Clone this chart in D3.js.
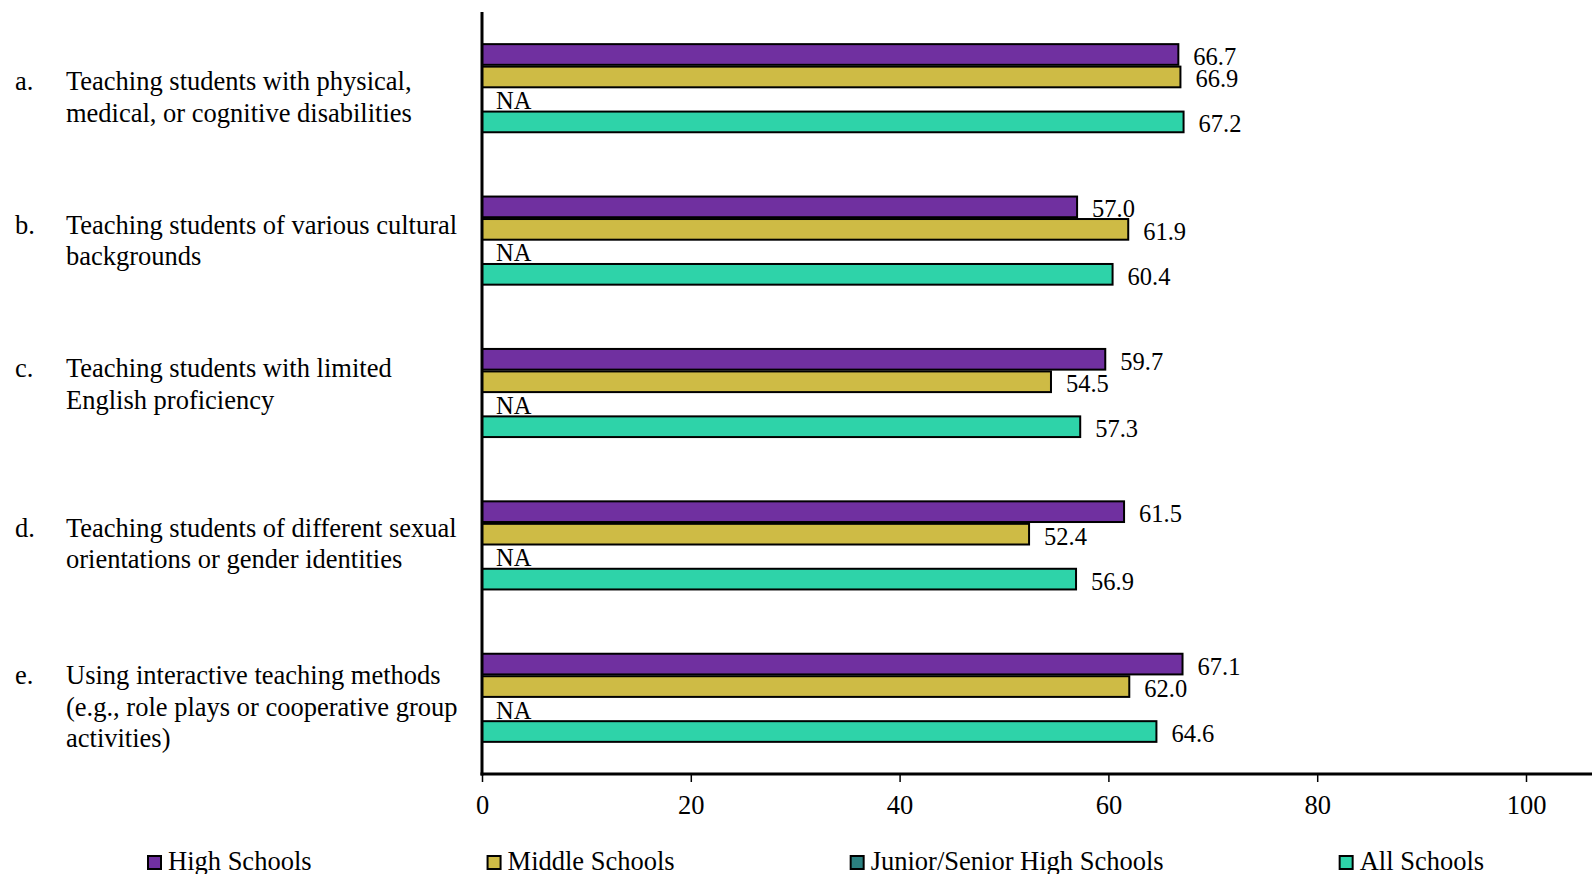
<!DOCTYPE html>
<html>
<head>
<meta charset="utf-8">
<script src="https://cdn.jsdelivr.net/npm/d3@7"></script>
<style>
  html, body { margin: 0; padding: 0; background: #fff; }
  svg { display: block; font-family: "Liberation Serif", "Times New Roman", serif; }
</style>
</head>
<body>
<svg id="chart" width="1592" height="874"></svg>
<script>
// Item letters and wrapped item text
const itemLetters = ["a.", "b.", "c.", "d.", "e."];
const itemLines = [
  ["Teaching students with physical,", "medical, or cognitive disabilities"],
  ["Teaching students of various cultural", "backgrounds"],
  ["Teaching students with limited", "English proficiency"],
  ["Teaching students of different sexual", "orientations or gender identities"],
  ["Using interactive teaching methods", "(e.g., role plays or cooperative group", "activities)"]
];

// School types (series) and their percentages; null = not available
const seriesNames = ["High Schools", "Middle Schools", "Junior/Senior High Schools", "All Schools"];
const highSchools   = [66.7, 57.0, 59.7, 61.5, 67.1];
const middleSchools = [66.9, 61.9, 54.5, 52.4, 62.0];
const juniorSenior  = [null, null, null, null, null];
const allSchools    = [67.2, 60.4, 57.3, 56.9, 64.6];
const xTicks = [0, 20, 40, 60, 80, 100];

const seriesValues = [highSchools, middleSchools, juniorSenior, allSchools];
const colors = ["#7030A0", "#CEBB45", "#2B8080", "#2ED3A9"];

const svg = d3.select("#chart");
const W = 1592;
const labelFont = 26.5;
const valueFont = 24.5;

const x = d3.scaleLinear().domain([0, 100]).range([482, 1526]);
const y0 = d3.scaleBand().domain(itemLetters).range([12, 774]).paddingInner(0).paddingOuter(0);
const y1 = d3.scaleBand().domain(seriesNames).range([0, y0.bandwidth()])
  .paddingInner(0.08).paddingOuter(1.43);

// Bars
const groups = svg.selectAll("g.item").data(itemLetters).join("g")
  .attr("class", "item")
  .attr("transform", d => `translate(0,${y0(d)})`);

groups.each(function(letter, i) {
  const g = d3.select(this);
  seriesNames.forEach((name, s) => {
    const v = seriesValues[s][i];
    const yy = y1(name);
    const bh = y1.bandwidth();
    if (v == null) {
      g.append("text")
        .attr("x", x(0) + 14)
        .attr("y", yy + bh / 2 + 1)
        .attr("dominant-baseline", "central")
        .attr("font-size", valueFont)
        .attr("fill", "#000")
        .text("NA");
      return;
    }
    g.append("rect")
      .attr("x", x(0))
      .attr("y", yy)
      .attr("width", x(v) - x(0))
      .attr("height", bh)
      .attr("fill", colors[s])
      .attr("stroke", "#000")
      .attr("stroke-width", 2);
    g.append("text")
      .attr("x", x(v) + 15)
      .attr("y", yy + bh / 2 + 2)
      .attr("dominant-baseline", "central")
      .attr("font-size", valueFont)
      .attr("fill", "#000")
      .text(v.toFixed(1));
  });
});

// Item labels on the left; each text block is nudged a little off the band centre
const lineH = 31.5;
const labelNudge = [9, 0, -9, -2, 9];
itemLetters.forEach((letter, i) => {
  const lines = itemLines[i];
  const cy = y0(letter) + y0.bandwidth() / 2 + labelNudge[i];
  const top = cy - (lines.length - 1) * lineH / 2;
  svg.append("text")
    .attr("x", 15).attr("y", top)
    .attr("dominant-baseline", "central")
    .attr("font-size", labelFont)
    .text(letter);
  lines.forEach((ln, k) => {
    svg.append("text")
      .attr("x", 66).attr("y", top + k * lineH)
      .attr("dominant-baseline", "central")
      .attr("font-size", labelFont)
      .text(ln);
  });
});

// X axis
const xAxis = svg.append("g")
  .attr("transform", `translate(0,774)`)
  .call(d3.axisBottom(x).tickValues(xTicks).tickSize(8).tickPadding(13).tickFormat(d3.format("d")));
xAxis.select(".domain").remove();
xAxis.selectAll(".tick line").attr("stroke", "#000").attr("stroke-width", 1.5);
xAxis.selectAll(".tick text")
  .attr("font-family", "Liberation Serif, Times New Roman, serif")
  .attr("font-size", labelFont).attr("fill", "#000");
svg.append("line")
  .attr("x1", x(0) - 1.5).attr("x2", W)
  .attr("y1", 774).attr("y2", 774)
  .attr("stroke", "#000").attr("stroke-width", 3);

// Y axis line
svg.append("line")
  .attr("x1", x(0)).attr("x2", x(0))
  .attr("y1", 12).attr("y2", 775.5)
  .attr("stroke", "#000").attr("stroke-width", 3);

// Legend
const legend = svg.append("g").attr("class", "legend");
let lx = 148;
seriesNames.forEach((name, s) => {
  legend.append("rect")
    .attr("x", lx).attr("y", 856)
    .attr("width", 13).attr("height", 13)
    .attr("fill", colors[s])
    .attr("stroke", "#000").attr("stroke-width", 2);
  const t = legend.append("text")
    .attr("x", lx + 20).attr("y", 870)
    .attr("font-size", labelFont)
    .text(name);
  lx = lx + 20 + t.node().getComputedTextLength() + 176;
});
</script>
</body>
</html>
